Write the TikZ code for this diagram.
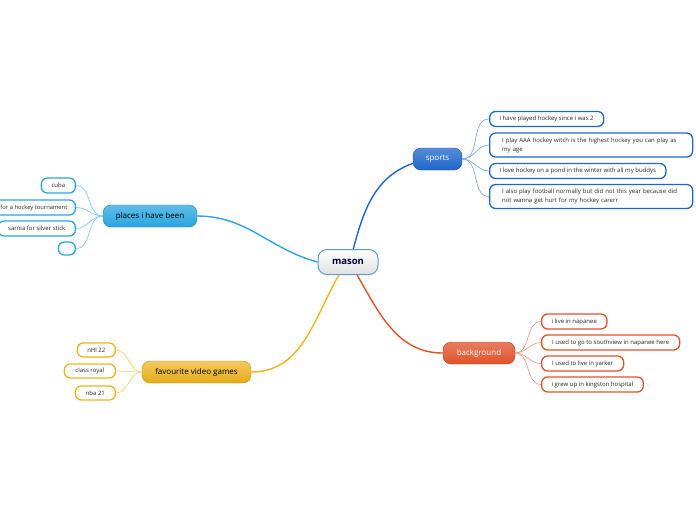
\documentclass[tikz,border=0pt]{standalone}
\usepackage{fontspec}
\setmainfont{Open Sans}
\usepackage{tikz}
\usetikzlibrary{positioning,calc}

\definecolor{sportsc}{HTML}{1E66CC}
\definecolor{placesc}{HTML}{2AA6E0}
\definecolor{gamesc}{HTML}{F0B41A}
\definecolor{backc}{HTML}{E0522A}
\definecolor{rootc}{HTML}{5A9AD8}

\begin{document}
\begin{tikzpicture}[
      x=1pt, y=-1pt,
      root/.style={rectangle, draw=rootc, line width=1pt, rounded corners=9pt, minimum width=60pt, minimum height=25pt, font=\fontsize{9.5}{10}\selectfont\bfseries, text=black!80!blue, top color=white, bottom color=black!12},
      branch/.style={rectangle, rounded corners=8pt, minimum height=22pt, inner xsep=8pt, font=\fontsize{8}{9}\selectfont},
      leaf/.style={rectangle, fill=white, line width=1.3pt, rounded corners=6pt, minimum height=15pt, inner xsep=10pt, inner ysep=2pt, font=\fontsize{6}{9}\selectfont, text=black!85, align=left},
      trunk/.style={line width=1.4pt},
      twig/.style={line width=0.7pt},
    ]
    \useasboundingbox (0,0) rectangle (696,520);
    % centre
    \node [root] (mason) at (348, 262) {mason};
    % main branches
    \node [branch, text=white, top color=sportsc!75, bottom color=sportsc, draw=sportsc!80!black, minimum width=49pt] (sports) at (437.5, 159) {sports};
    \node [branch, text=black, top color=placesc!75, bottom color=placesc, draw=placesc!80!black, minimum width=94pt] (places) at (150, 216) {places i have been};
    \node [branch, text=black, top color=gamesc!70, bottom color=gamesc!95!black, draw=gamesc!85!black, minimum width=109pt] (games) at (196.5, 372) {favourite video games};
    \node [branch, text=white, top color=backc!75, bottom color=backc, draw=backc!80!black, minimum width=72pt] (backg) at (479, 353) {background};
    % sports leaves
    \node [leaf, draw=sportsc, anchor=west, minimum width=114pt] (s1) at (489, 119) {i have played hockey since i was 2};
    \node [leaf, draw=sportsc, anchor=west, text width=178pt, inner xsep=12.5pt, minimum height=24pt] (s2) at (489, 145) {I play AAA hockey witch is the highest hockey you can play as my age};
    \node [leaf, draw=sportsc, anchor=west, minimum width=174pt] (s3) at (489, 171) {I love hockey on a pond in the winter with all my buddys};
    \node [leaf, draw=sportsc, anchor=west, text width=178pt, inner xsep=12.5pt, minimum height=24pt] (s4) at (489, 196.5) {I also play football normally but did not this year because did not wanna get hurt for my hockey carerr};
    % places leaves
    \node [leaf, draw=placesc, anchor=east, minimum width=34pt] (p1) at (76, 185.5) {cuba};
    \node [leaf, draw=placesc, anchor=east, inner xsep=8pt, font=\fontsize{5.8}{9}\selectfont] (p2) at (76, 207.5) {for a hockey tournament};
    \node [leaf, draw=placesc, anchor=east, minimum width=75pt] (p3) at (76, 228.5) {sarnia for silver stick};
    \node [leaf, draw=placesc, anchor=east, minimum width=17pt, minimum height=13pt, inner xsep=0pt] (p4) at (76, 248.5) {};
    % games leaves
    \node [leaf, draw=gamesc, anchor=east, minimum width=38pt, minimum height=14pt] (g1) at (116, 350) {nHl 22};
    \node [leaf, draw=gamesc, anchor=east, minimum width=51pt, minimum height=14pt] (g2) at (116, 371) {class royal};
    \node [leaf, draw=gamesc, anchor=east, minimum width=40pt, minimum height=14pt] (g3) at (116, 393) {nba 21};
    % background leaves
    \node [leaf, draw=backc, anchor=west, minimum width=65pt] (b1) at (541, 321.5) {i live in napanee};
    \node [leaf, draw=backc, anchor=west, minimum width=138pt] (b2) at (541, 342.5) {I used to go to southview in napanee here};
    \node [leaf, draw=backc, anchor=west, minimum width=82pt] (b3) at (541, 363.5) {I used to live in yarker};
    \node [leaf, draw=backc, anchor=west, minimum width=101pt] (b4) at (541, 384.5) {i grew up in kingston hospital};
    % trunks
    \draw [trunk, sportsc] (mason.68) to [out=75, in=200] (sports.190);
    \draw [trunk, placesc] (mason.west) to [out=165, in=0] (places.east);
    \draw [trunk, gamesc] (mason.235) to [out=240, in=0] (games.east);
    \draw [trunk, backc] (mason.305) to [out=300, in=180] (backg.west);
    % twigs
    \foreach \n in {s1,s2,s3,s4}
      \draw [twig, sportsc!55] (sports.east) to [out=0, in=180] (\n.west);
    \foreach \n in {p1,p2,p3,p4}
      \draw [twig, placesc!60] (places.west) to [out=180, in=0] (\n.east);
    \foreach \n in {g1,g2,g3}
      \draw [twig, gamesc!60] (games.west) to [out=180, in=0] (\n.east);
    \foreach \n in {b1,b2,b3,b4}
      \draw [twig, backc!55] (backg.east) to [out=0, in=180] (\n.west);
  \end{tikzpicture}
\end{document}
